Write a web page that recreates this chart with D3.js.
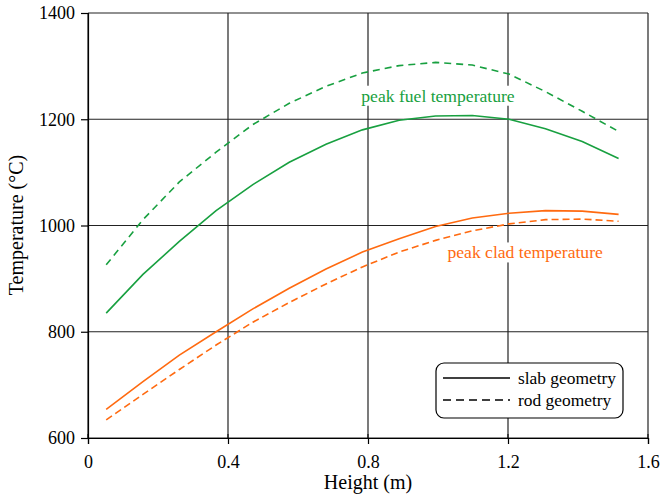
<!DOCTYPE html>
<html>
<head>
<meta charset="utf-8">
<script src="https://cdn.jsdelivr.net/npm/d3@7"></script>
<style>
  body { margin: 0; background: #fff; }
  text { font-family: "Liberation Serif", "Times New Roman", serif; }
</style>
</head>
<body>
<div id="chart"></div>
<script>
// node heights along the rod (m)
var heights = [0.052, 0.157, 0.261, 0.366, 0.471, 0.575, 0.680, 0.784, 0.889, 0.993, 1.098, 1.203, 1.307, 1.412, 1.516];

// peak fuel temperature (C)
var fuelSlab = [835, 908, 970, 1028, 1077, 1119, 1153, 1180, 1198, 1206, 1207, 1200, 1182, 1158, 1126];
var fuelRod  = [926, 1011, 1082, 1138, 1190, 1230, 1262, 1287, 1301, 1307, 1302, 1285, 1252, 1215, 1177];

// peak clad temperature (C)
var cladSlab = [654, 706, 756, 800, 843, 882, 918, 950, 975, 998, 1014, 1023, 1028, 1027, 1021];
var cladRod  = [634, 682, 729, 775, 818, 855, 890, 922, 950, 972, 990, 1003, 1011, 1012, 1008];

var xTicks = [0, 0.4, 0.8, 1.2, 1.6];
var yTicks = [600, 800, 1000, 1200, 1400];

var green = '#18a040',
    orange = '#ff6a10';

var series = [
  {values: fuelSlab, color: green, dash: null},
  {values: fuelRod, color: green, dash: '7,5'},
  {values: cladSlab, color: orange, dash: null},
  {values: cladRod, color: orange, dash: '7,4'}
];

var margin = {top: 13, right: 12, bottom: 58, left: 88},
    width = 660 - margin.left - margin.right,
    height = 496 - margin.top - margin.bottom;

var svg = d3.select('#chart').append('svg')
  .attr('width', 660)
  .attr('height', 496);

var g = svg.append('g')
  .attr('transform', 'translate(' + margin.left + ',' + margin.top + ')');

var x = d3.scaleLinear().domain([0, 1.6]).range([0, width]);
var y = d3.scaleLinear().domain([600, 1400]).range([height, 0]);

// grid
g.selectAll('.vgrid').data(xTicks).enter().append('line')
  .attr('x1', function(d) {return x(d);})
  .attr('x2', function(d) {return x(d);})
  .attr('y1', 0)
  .attr('y2', height)
  .style('stroke', '#222')
  .style('stroke-width', 1.2);

g.selectAll('.hgrid').data(yTicks).enter().append('line')
  .attr('x1', 0)
  .attr('x2', width)
  .attr('y1', function(d) {return y(d);})
  .attr('y2', function(d) {return y(d);})
  .style('stroke', '#222')
  .style('stroke-width', 1.2);

// axes
var xAxis = g.append('g')
  .attr('transform', 'translate(0,' + height + ')')
  .call(d3.axisBottom(x).tickValues(xTicks).tickSize(6).tickPadding(11)
    .tickFormat(function(d) {return d === 0 ? '0' : d3.format('.1f')(d);}));

var yAxis = g.append('g')
  .call(d3.axisLeft(y).tickValues(yTicks).tickSize(7).tickPadding(6)
    .tickFormat(d3.format('d')));

[xAxis, yAxis].forEach(function(a) {
  a.select('.domain').style('stroke', '#000').style('stroke-width', 1.2);
  a.selectAll('.tick line').style('stroke', '#000').style('stroke-width', 1.2);
  a.selectAll('.tick text')
    .style('font-family', '"Liberation Serif", serif')
    .style('font-size', '18px')
    .style('fill', '#000');
});

// inner half of the ticks
g.selectAll('.xin').data(xTicks).enter().append('line')
  .attr('x1', function(d) {return x(d);})
  .attr('x2', function(d) {return x(d);})
  .attr('y1', height - 4)
  .attr('y2', height)
  .style('stroke', '#000');

// axis titles
svg.append('text')
  .attr('x', margin.left + width / 2)
  .attr('y', 489)
  .attr('text-anchor', 'middle')
  .style('font-size', '20px')
  .text('Height (m)');

svg.append('text')
  .attr('transform', 'translate(23,' + 225 + ')rotate(-90)')
  .attr('text-anchor', 'middle')
  .style('font-size', '20px')
  .text('Temperature (°C)');

// curve labels with white backing
function addLabel(text, cx, cy, color) {
  var lg = g.append('g');
  var t = lg.append('text')
    .attr('x', x(cx))
    .attr('y', y(cy))
    .attr('text-anchor', 'middle')
    .style('font-size', '17.6px')
    .style('fill', color)
    .text(text);
  var bb = t.node().getBBox();
  lg.insert('rect', 'text')
    .attr('x', bb.x - 2)
    .attr('y', bb.y)
    .attr('width', bb.width + 4)
    .attr('height', bb.height)
    .style('fill', '#fff');
}

addLabel('peak fuel temperature', 1.0, 1233, green);
addLabel('peak clad temperature', 1.249, 938, orange);

// curves
var line = d3.line()
  .x(function(d, i) {return x(heights[i]);})
  .y(function(d) {return y(d);});

g.selectAll('.curve').data(series).enter().append('path')
  .attr('d', function(d) {return line(d.values);})
  .style('fill', 'none')
  .style('stroke', function(d) {return d.color;})
  .style('stroke-width', 1.6)
  .style('stroke-dasharray', function(d) {return d.dash;});

// legend
var legend = svg.append('g').attr('transform', 'translate(436,363)');

legend.append('rect')
  .attr('width', 187)
  .attr('height', 55)
  .attr('rx', 8)
  .style('fill', '#fff')
  .style('stroke', '#000')
  .style('stroke-width', 1.2);

var legendItems = [
  {label: 'slab geometry', dash: null},
  {label: 'rod geometry', dash: '8,5'}
];

legendItems.forEach(function(d, i) {
  legend.append('line')
    .attr('x1', 7)
    .attr('x2', 74)
    .attr('y1', 15 + i * 22)
    .attr('y2', 15 + i * 22)
    .style('stroke', '#000')
    .style('stroke-width', 1.6)
    .style('stroke-dasharray', d.dash);
  legend.append('text')
    .attr('x', 82)
    .attr('y', 21 + i * 22)
    .style('font-size', '17.4px')
    .text(d.label);
});
</script>
</body>
</html>
